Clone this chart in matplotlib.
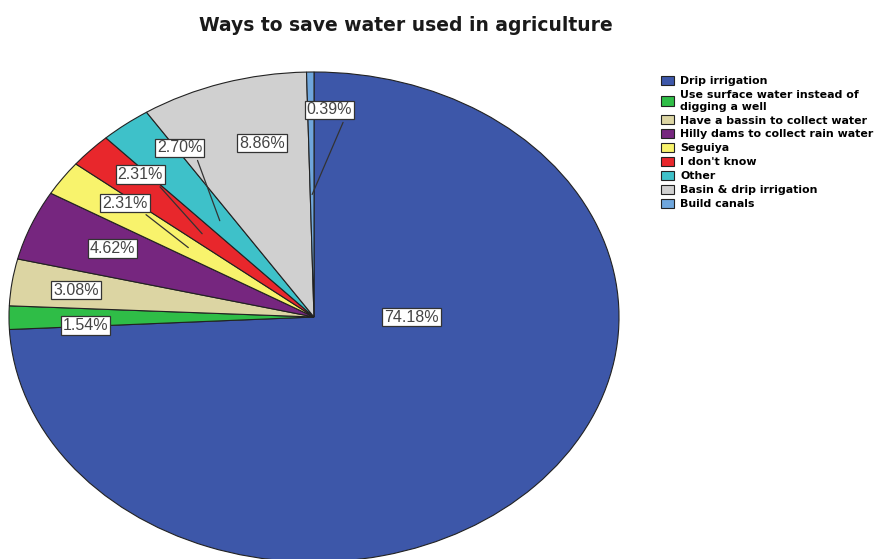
import numpy as np
import matplotlib.pyplot as plt

plt.rcParams['font.family'] = ['Liberation Sans', 'DejaVu Sans']

categories = ['Drip irrigation', 'Use surface water instead of\ndigging a well',
              'Have a bassin to collect water', 'Hilly dams to collect rain water',
              'Seguiya', "I don't know", 'Other', 'Basin & drip irrigation', 'Build canals']
shares = [74.18, 1.54, 3.08, 4.62, 2.31, 2.31, 2.70, 8.86, 0.39]
colors = ['#3d57a9', '#2fbd47', '#dcd5a3', '#76267f', '#f8f36c',
          '#e8272c', '#3ec1c9', '#d0d0d0', '#6fa6dc']

# label box positions (axes data units) and whether a leader line is drawn
label_pos = [(0.32, 0.0), (-0.75, -0.035), (-0.78, 0.11), (-0.66, 0.28),
             (-0.62, 0.465), (-0.57, 0.58), (-0.44, 0.69), (-0.17, 0.71), (0.05, 0.845)]
leader = [False, False, False, False, True, True, True, False, True]

fig = plt.figure(figsize=(8.77, 5.59), dpi=100)
ax = fig.add_axes([9 / 877, -3 / 559, 610 / 877, 490 / 559])

wedges, _ = ax.pie(shares, colors=colors, startangle=90, counterclock=False,
                   wedgeprops=dict(edgecolor='#222222', linewidth=0.8), radius=1.0)
ax.set_aspect('auto')
ax.set_xlim(-1.0, 1.0)
ax.set_ylim(-1.0, 1.0)
ax.axis('off')

box = dict(boxstyle='square,pad=0.12', facecolor='white', edgecolor='#333333', linewidth=0.9)
for w, val, pos, has_line in zip(wedges, shares, label_pos, leader):
    mid = np.deg2rad((w.theta1 + w.theta2) / 2)
    target = (0.5 * np.cos(mid), 0.5 * np.sin(mid))
    props = None
    if has_line:
        props = dict(arrowstyle='-', color='#333333', lw=0.9, shrinkA=2, shrinkB=0,
                     relpos=(0.85, 0.0))
    ax.annotate(f'{val:.2f}%', xy=target, xytext=pos, ha='center', va='center',
                fontsize=11.5, color='#444444', bbox=box, arrowprops=props, zorder=5)

fig.text(0.463, 0.955, 'Ways to save water used in agriculture', ha='center', va='center',
         fontsize=13.5, fontweight='bold', color='#1a1a1a', family='DejaVu Sans')

fig.legend(wedges, categories, loc='upper left', bbox_to_anchor=(661 / 877, 1 - 76 / 559),
           frameon=False, prop=dict(family='DejaVu Sans', size=7.9, weight='bold'),
           handlelength=1.15, handleheight=0.9, handletextpad=0.6, labelspacing=0.33,
           borderaxespad=0, borderpad=0)

fig.savefig('out.png', dpi=100)
